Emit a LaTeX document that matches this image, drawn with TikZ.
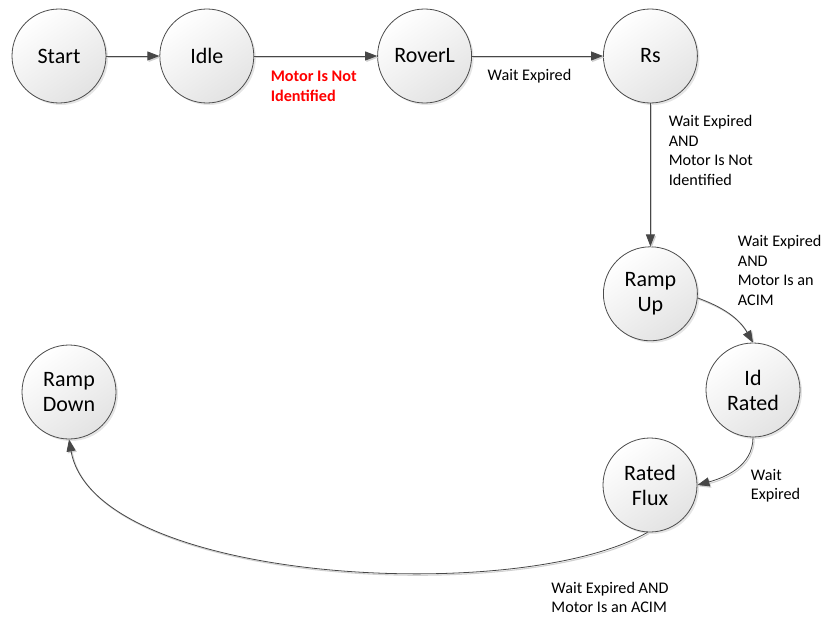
\documentclass[tikz,border=0pt]{standalone}
\usepackage{fontspec}
\setmainfont{Carlito}
\usetikzlibrary{arrows.meta, positioning, shadows}

\begin{document}
\begin{tikzpicture}[
      x=1pt, y=1pt,
      >=Latex,
      state/.style={
        circle,
        draw=black!70,
        line width=0.8pt,
        minimum size=94pt,
        inner sep=0pt,
        align=center,
        top color=white,
        bottom color=black!11,
        shading angle=35,
        drop shadow={shadow xshift=2pt, shadow yshift=-2pt, opacity=0.25, fill=black!40},
        font=\fontsize{22}{25}\selectfont
      },
      trans/.style={
        -{Triangle[length=12pt,width=9pt]},
        draw=black!72,
        line width=0.8pt,
        preaction={draw=black!18, line width=1.1pt, transform canvas={shift={(1.2pt,-1.4pt)}}}
      },
      cond/.style={
        font=\fontsize{16.2}{19.5}\selectfont,
        align=left,
        inner sep=2pt
      }
    ]
    \useasboundingbox (0,0) rectangle (822,-618);

    % States
    \node[state] (start) at (59,-56) {Start};
    \node[state, right=53pt of start] (idle) {Idle};
    \node[state, right=123pt of idle] (roverl) {RoverL};
    \node[state, right=131pt of roverl] (rs) {Rs};
    \node[state, below=143pt of rs] (rampup) {Ramp\\Up};
    \node[state] (idrated) at (753,-390) {Id\\Rated};
    \node[state] (ratedflux) at (650,-485) {Rated\\Flux};
    \node[state] (rampdown) at (69,-392) {Ramp\\Down};

    % Transitions
    \draw[trans] (start) -- (idle);
    \draw[trans] (idle) -- node[cond, below=13pt, xshift=-2pt, font=\fontsize{16.2}{19.5}\bfseries\selectfont, text=red] {Motor Is Not\\Identified} (roverl);
    \draw[trans] (roverl) -- node[cond, below=11pt, xshift=-8pt] {Wait Expired} (rs);
    \draw[trans] (rs) -- node[cond, pos=0.33, right=16pt] {Wait Expired\\AND\\Motor Is Not\\Identified} (rampup);
    \draw[trans] (rampup.-5) to[out=-20, in=120] node[cond, pos=0.35, anchor=south west, xshift=14pt, yshift=1pt] {Wait Expired\\AND\\Motor Is an\\ACIM} (idrated.north);
    \draw[trans] (idrated.south) to[out=-90, in=15] node[cond, pos=0.45, anchor=north west, xshift=10pt, yshift=0pt] {Wait\\Expired} (ratedflux.east);
    \draw[trans] (ratedflux.-93) to[out=-150, in=-80, looseness=0.64] node[cond, pos=0.12, anchor=north west, xshift=-41pt, yshift=-25pt] {Wait Expired AND\\Motor Is an ACIM} (rampdown.south);

  \end{tikzpicture}
\end{document}
